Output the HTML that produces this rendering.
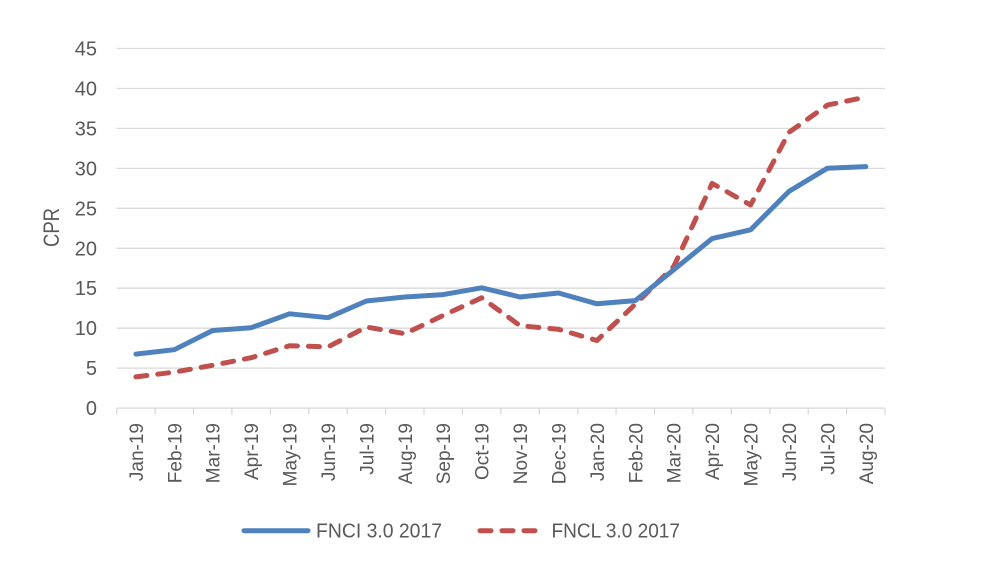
<!DOCTYPE html>
<html><head><meta charset="utf-8"><style>
html,body{margin:0;padding:0;background:#fff;}
svg{display:block;font-family:"Liberation Sans",Arial,sans-serif;}
</style></head><body>
<svg width="988" height="570" viewBox="0 0 988 570" xmlns="http://www.w3.org/2000/svg">
<rect width="988" height="570" fill="#fff"/>
<g stroke="#d9d9d9" stroke-width="1.3">
<line x1="116.7" y1="48.5" x2="885" y2="48.5"/>
<line x1="116.7" y1="88.5" x2="885" y2="88.5"/>
<line x1="116.7" y1="128.4" x2="885" y2="128.4"/>
<line x1="116.7" y1="168.4" x2="885" y2="168.4"/>
<line x1="116.7" y1="208.3" x2="885" y2="208.3"/>
<line x1="116.7" y1="248.3" x2="885" y2="248.3"/>
<line x1="116.7" y1="288.2" x2="885" y2="288.2"/>
<line x1="116.7" y1="328.2" x2="885" y2="328.2"/>
<line x1="116.7" y1="368.1" x2="885" y2="368.1"/>
<line x1="116.7" y1="408.1" x2="885" y2="408.1"/>
</g>
<g stroke="#d9d9d9" stroke-width="1.3">
<line x1="116.7" y1="408.1" x2="116.7" y2="414.5"/>
<line x1="155.1" y1="408.1" x2="155.1" y2="414.5"/>
<line x1="193.5" y1="408.1" x2="193.5" y2="414.5"/>
<line x1="231.9" y1="408.1" x2="231.9" y2="414.5"/>
<line x1="270.4" y1="408.1" x2="270.4" y2="414.5"/>
<line x1="308.8" y1="408.1" x2="308.8" y2="414.5"/>
<line x1="347.2" y1="408.1" x2="347.2" y2="414.5"/>
<line x1="385.6" y1="408.1" x2="385.6" y2="414.5"/>
<line x1="424.0" y1="408.1" x2="424.0" y2="414.5"/>
<line x1="462.4" y1="408.1" x2="462.4" y2="414.5"/>
<line x1="500.9" y1="408.1" x2="500.9" y2="414.5"/>
<line x1="539.3" y1="408.1" x2="539.3" y2="414.5"/>
<line x1="577.7" y1="408.1" x2="577.7" y2="414.5"/>
<line x1="616.1" y1="408.1" x2="616.1" y2="414.5"/>
<line x1="654.5" y1="408.1" x2="654.5" y2="414.5"/>
<line x1="692.9" y1="408.1" x2="692.9" y2="414.5"/>
<line x1="731.3" y1="408.1" x2="731.3" y2="414.5"/>
<line x1="769.8" y1="408.1" x2="769.8" y2="414.5"/>
<line x1="808.2" y1="408.1" x2="808.2" y2="414.5"/>
<line x1="846.6" y1="408.1" x2="846.6" y2="414.5"/>
<line x1="885.0" y1="408.1" x2="885.0" y2="414.5"/>
</g>
<g fill="#595959" font-size="20" text-anchor="end">
<text x="97" y="55.5">45</text>
<text x="97" y="95.5">40</text>
<text x="97" y="135.4">35</text>
<text x="97" y="175.4">30</text>
<text x="97" y="215.3">25</text>
<text x="97" y="255.3">20</text>
<text x="97" y="295.2">15</text>
<text x="97" y="335.2">10</text>
<text x="97" y="375.1">5</text>
<text x="97" y="415.1">0</text>
</g>
<text transform="translate(59,227.5) rotate(-90)" text-anchor="middle" fill="#595959" font-size="22" textLength="39" lengthAdjust="spacingAndGlyphs">CPR</text>
<g fill="#595959" font-size="19" text-anchor="end">
<text transform="translate(142.9,423) rotate(-90)">Jan-19</text>
<text transform="translate(181.3,423) rotate(-90)">Feb-19</text>
<text transform="translate(219.7,423) rotate(-90)">Mar-19</text>
<text transform="translate(258.2,423) rotate(-90)">Apr-19</text>
<text transform="translate(296.6,423) rotate(-90)">May-19</text>
<text transform="translate(335.0,423) rotate(-90)">Jun-19</text>
<text transform="translate(373.4,423) rotate(-90)">Jul-19</text>
<text transform="translate(411.8,423) rotate(-90)">Aug-19</text>
<text transform="translate(450.2,423) rotate(-90)">Sep-19</text>
<text transform="translate(488.6,423) rotate(-90)">Oct-19</text>
<text transform="translate(527.1,423) rotate(-90)">Nov-19</text>
<text transform="translate(565.5,423) rotate(-90)">Dec-19</text>
<text transform="translate(603.9,423) rotate(-90)">Jan-20</text>
<text transform="translate(642.3,423) rotate(-90)">Feb-20</text>
<text transform="translate(680.7,423) rotate(-90)">Mar-20</text>
<text transform="translate(719.1,423) rotate(-90)">Apr-20</text>
<text transform="translate(757.6,423) rotate(-90)">May-20</text>
<text transform="translate(796.0,423) rotate(-90)">Jun-20</text>
<text transform="translate(834.4,423) rotate(-90)">Jul-20</text>
<text transform="translate(872.8,423) rotate(-90)">Aug-20</text>
</g>
<polyline fill="none" stroke="#c0504d" stroke-width="5" stroke-linecap="round" stroke-linejoin="round" stroke-dasharray="11 11" points="135.9,376.9 174.3,372.1 212.7,365.3 251.2,357.7 289.6,345.7 328.0,346.9 366.4,327.0 404.8,333.7 443.2,315.4 481.6,297.8 520.1,325.7 558.5,329.3 596.9,340.5 635.3,304.2 673.7,266.6 712.1,183.4 750.6,205.0 789.0,132.3 827.4,105.1 865.8,97.1"/>
<polyline fill="none" stroke="#4f81bd" stroke-width="5" stroke-linecap="round" stroke-linejoin="round" points="135.9,354.1 174.3,349.7 212.7,330.5 251.2,327.7 289.6,313.8 328.0,317.7 366.4,301.0 404.8,297.0 443.2,294.6 481.6,287.8 520.1,297.0 558.5,293.0 596.9,303.8 635.3,300.6 673.7,269.8 712.1,238.6 750.6,229.8 789.0,191.4 827.4,168.2 865.8,166.6"/>
<line x1="244" y1="530.7" x2="308" y2="530.7" stroke="#4f81bd" stroke-width="5" stroke-linecap="round"/>
<text x="316" y="537.7" fill="#595959" font-size="20" textLength="126" lengthAdjust="spacingAndGlyphs">FNCI 3.0 2017</text>
<line x1="480" y1="530.7" x2="536" y2="530.7" stroke="#c0504d" stroke-width="5" stroke-linecap="round" stroke-dasharray="11 11"/>
<text x="551.5" y="537.7" fill="#595959" font-size="20" textLength="128.5" lengthAdjust="spacingAndGlyphs">FNCL 3.0 2017</text>
</svg>
</body></html>
